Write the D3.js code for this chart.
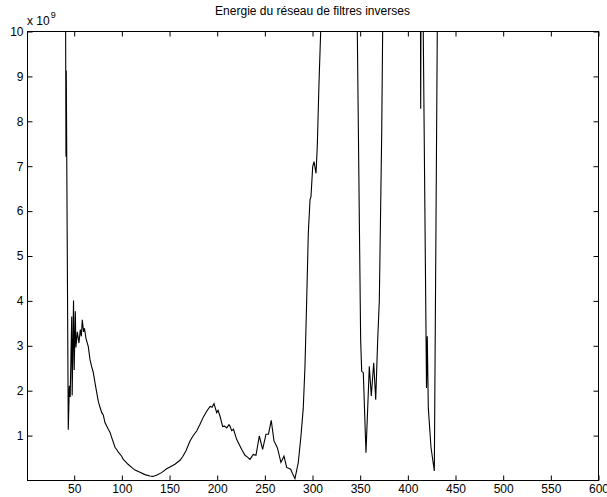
<!DOCTYPE html>
<html>
<head>
<meta charset="utf-8">
<script src="https://cdn.jsdelivr.net/npm/d3@7/dist/d3.min.js"></script>
<style>
  html, body { margin: 0; padding: 0; background: #fff; }
  svg { display: block; }
  text { font-family: "Liberation Sans", Arial, Helvetica, sans-serif; fill: #000; }
</style>
</head>
<body>
<svg id="chart" width="607" height="497"></svg>
<script>
// Inverse filter bank energy, in units of 1e9
const chartTitle = "Energie du réseau de filtres inverses";
const exponentBase = "x 10";
const exponentPower = "9";

const sampleIndex = [
  1, 20, 41, 41.9, 42.2, 42.7, 44.3, 45.4, 46.3, 47.9, 48.4, 49.8, 50.5, 51.7, 52.3,
  53.8, 55.5, 56.9, 58, 59, 60.3, 61.3, 62.9, 65.3, 67.1, 68.9, 70.5, 72.3, 74.1,
  75.8, 77.6, 79.4, 81, 82.8, 86.3, 88.1, 89.8, 93.3, 95.1, 96.8, 100.3, 102, 103.8,
  107, 110.8, 114.3, 119.5, 124.8, 130, 133.2, 137.4, 142.6, 147.5, 151, 156.2,
  161.5, 164.6, 167.8, 172, 175.1, 179, 182.5, 185.9, 189.5, 193, 195.1, 197.2,
  200, 201.4, 203.5, 206.3, 208.2, 210.5, 212.9, 213.9, 215.7, 217.6, 221, 223.4,
  226.2, 229.7, 232.3, 234.9, 238.4, 241.2, 244.7, 248.2, 251.7, 254.3, 257.2,
  260.1, 263.6, 267.4, 270.6, 273.4, 277.6, 280, 282.1, 285.6, 288.4, 290.8,
  292.6, 294.4, 296.1, 297.9, 298.9, 300.7, 302.1, 304.2, 305.5, 307.3, 309.1,
  311, 325, 340, 346.5, 351, 352.1, 353.8, 356.6, 360.1, 362.2, 364.7, 366.8,
  368.9, 370.6, 373.1, 374.1, 375, 390, 405, 413.5, 414, 414.6, 416, 420.1,
  420.9, 422, 424.8, 428.3, 431.4, 432.5, 450, 600
];

const energy = [
  25, 22, 14, 7.2, 9.12, 7.2, 1.12, 2.1, 1.85, 3.64, 1.88, 4.0, 2.45, 3.76, 2.95,
  3.3, 3.05, 3.35, 3.2, 3.57, 3.3, 3.38, 3.15, 2.97, 2.68, 2.52, 2.4, 2.17, 1.95,
  1.75, 1.62, 1.5, 1.45, 1.28, 1.13, 1.06, 0.95, 0.73, 0.68, 0.62, 0.53, 0.46, 0.42,
  0.35, 0.28, 0.22, 0.17, 0.12, 0.09, 0.08, 0.11, 0.17, 0.25, 0.29, 0.35,
  0.44, 0.53, 0.65, 0.87, 0.98, 1.09, 1.24, 1.4, 1.53, 1.64, 1.62, 1.70,
  1.50, 1.55, 1.42, 1.19, 1.2, 1.16, 1.23, 1.2, 1.1, 1.13, 0.9, 0.8,
  0.68, 0.55, 0.51, 0.46, 0.57, 0.55, 0.98, 0.68, 1.02, 1.02, 1.33,
  0.87, 0.72, 0.39, 0.53, 0.28, 0.24, 0.12, 0.03, 0.39, 0.98, 1.6,
  2.53, 4.0, 5.5, 6.24, 6.31, 6.98, 7.09, 6.83, 7.42, 8.83, 10.0,
  11.3, 18, 16, 11.96, 3.13, 2.42, 2.39, 0.61, 2.53, 1.87, 2.61, 1.79,
  3.13, 4.0, 7.72, 10.0, 12, 20, 18, 12.5, 8.27, 12.5, 11.6, 2.05,
  3.2, 1.6, 0.73, 0.2, 10, 12.5, 25, 30
];

const xTicks = [50, 100, 150, 200, 250, 300, 350, 400, 450, 500, 550, 600];
const yTicks = [1, 2, 3, 4, 5, 6, 7, 8, 9, 10];
const xDomain = [1, 600];
const yDomain = [0, 10];

const svg = d3.select("#chart");
const box = { left: 27, right: 598, top: 31, bottom: 480 };

const x = d3.scaleLinear().domain(xDomain).range([box.left, box.right]);
const y = d3.scaleLinear().domain(yDomain).range([box.bottom, box.top]);

svg.append("rect").attr("width", 607).attr("height", 497).attr("fill", "#fff");

svg.append("defs").append("clipPath").attr("id", "plotClip")
  .append("rect")
  .attr("x", box.left).attr("y", box.top)
  .attr("width", box.right - box.left).attr("height", box.bottom - box.top);

// curve
const points = sampleIndex.map((d, i) => [d, energy[i]]);
svg.append("path")
  .datum(points)
  .attr("clip-path", "url(#plotClip)")
  .attr("fill", "none")
  .attr("stroke", "#000")
  .attr("stroke-width", 1.1)
  .attr("stroke-linejoin", "miter")
  .attr("d", d3.line().x(d => x(d[0])).y(d => y(d[1])));

const fontSize = 12;
function styleAxis(g) {
  g.select(".domain").remove();
  g.selectAll(".tick line").attr("stroke", "#000").attr("stroke-width", 1);
  g.selectAll("text").attr("font-size", fontSize)
    .attr("font-family", "'Liberation Sans', Arial, Helvetica, sans-serif")
    .attr("fill", "#000");
}

// bottom axis with labels, ticks pointing inward
svg.append("g")
  .attr("transform", `translate(0.5,${box.bottom + 0.5})`)
  .call(d3.axisBottom(x).tickValues(xTicks).tickSize(-5).tickPadding(4).tickFormat(d3.format("d")))
  .call(styleAxis);

// top axis, ticks only
svg.append("g")
  .attr("transform", `translate(0.5,${box.top + 0.5})`)
  .call(d3.axisTop(x).tickValues(xTicks).tickSize(-5).tickFormat(""))
  .call(styleAxis);

// left axis with labels
svg.append("g")
  .attr("transform", `translate(${box.left + 0.5},0.5)`)
  .call(d3.axisLeft(y).tickValues(yTicks).tickSize(-5).tickPadding(4).tickFormat(d3.format("d")))
  .call(styleAxis);

// right axis, ticks only
svg.append("g")
  .attr("transform", `translate(${box.right + 0.5},0.5)`)
  .call(d3.axisRight(y).tickValues(yTicks).tickSize(-5).tickFormat(""))
  .call(styleAxis);

// axes box
svg.append("rect")
  .attr("x", box.left + 0.5).attr("y", box.top + 0.5)
  .attr("width", box.right - box.left).attr("height", box.bottom - box.top)
  .attr("fill", "none").attr("stroke", "#000").attr("stroke-width", 1);

// title
svg.append("text")
  .attr("x", (box.left + box.right) / 2)
  .attr("y", 15)
  .attr("text-anchor", "middle")
  .attr("font-size", 12)
  .text(chartTitle);

// exponent label
const expo = svg.append("text")
  .attr("x", box.left)
  .attr("y", 25)
  .attr("font-size", fontSize);
expo.append("tspan").text(exponentBase);
expo.append("tspan").attr("font-size", 9).attr("dy", -7).attr("dx", 1).text(exponentPower);
</script>
</body>
</html>
